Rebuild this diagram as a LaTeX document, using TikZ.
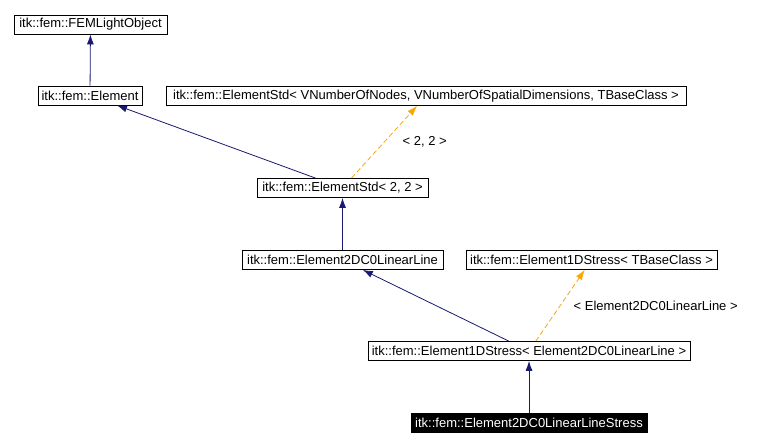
\documentclass[tikz,border=0pt]{standalone}
\usepackage{fontspec}
\setmainfont{Liberation Sans}
\usepackage{tikz}
\usetikzlibrary{arrows.meta}
\definecolor{edgeblue}{HTML}{191970}
\definecolor{tmplorange}{HTML}{FFA500}

\begin{document}
\begin{tikzpicture}[
    x=1pt,y=-1pt,
    cls/.style={draw,line width=0.8pt,minimum width=#1,minimum height=19pt,
                inner sep=0pt,font=\fontsize{13}{15}\selectfont},
    cur/.style={cls=#1,fill=black,text=white},
    inh/.style={-{Latex[length=10pt,width=7pt]},edgeblue,line width=0.8pt},
    tpl/.style={-{Latex[length=10pt,width=7pt]},tmplorange,line width=0.8pt,
                dash pattern=on 5pt off 3pt},
    lbl/.style={font=\fontsize{13}{15}\selectfont,text=black,inner sep=0pt},
]
\useasboundingbox (0,0) rectangle (781,446);

% base classes
\node[cls=153pt] (femlight) at (90.5,24.5) {itk::fem::FEMLightObject};
\node[cls=104pt] (element) at (90,95.5) {itk::fem::Element};
\node[cls=520pt] (stdtmpl) at (426,96) {itk::fem::ElementStd< VNumberOfNodes, VNumberOfSpatialDimensions, TBaseClass >};

% ElementStd instance
\node[cls=171pt] (std22) at (342.5,188) {itk::fem::ElementStd< 2, 2 >};

% line element and stress template
\node[cls=201pt] (linline) at (342.5,260) {itk::fem::Element2DC0LinearLine};
\node[cls=251pt] (stresstmpl) at (591.5,260) {itk::fem::Element1DStress< TBaseClass >};

% stress instance
\node[cls=322pt] (stress) at (529,351) {itk::fem::Element1DStress< Element2DC0LinearLine >};

% this class
\node[cur=236pt] (linstress) at (529,423) {itk::fem::Element2DC0LinearLineStress};

\draw[inh] (element) -- (femlight);
\draw[inh] (std22) -- (element);
\draw[tpl] (std22) -- (stdtmpl)
    node[lbl,midway,anchor=west,xshift=18pt] {< 2, 2 >};
\draw[inh] (linline) -- (std22);
\draw[inh] (stress) -- (linline);
\draw[tpl] (stress) -- (stresstmpl)
    node[lbl,midway,anchor=west,xshift=13pt] {< Element2DC0LinearLine >};
\draw[inh] (linstress) -- (stress);

\end{tikzpicture}
\end{document}
